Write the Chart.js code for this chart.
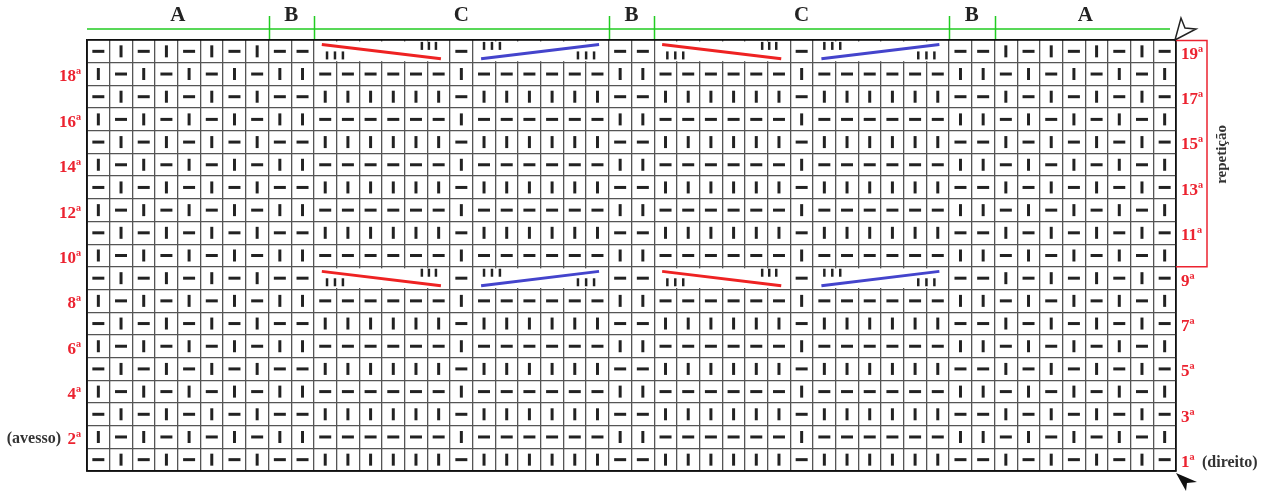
<!DOCTYPE html>
<html>
<head>
<meta charset="utf-8">
<script src="https://cdn.jsdelivr.net/npm/chart.js@4.4.1/dist/chart.umd.min.js"></script>
<style>
  html, body { margin: 0; padding: 0; background: #fff; }
  #wrap { width: 1261px; height: 492px; position: relative; }
</style>
</head>
<body>
<div id="wrap"><canvas id="chart"></canvas></div>
<script>
// ---- chart data ----------------------------------------------------------
const sectionLabels = ['A', 'B', 'C', 'B', 'C', 'B', 'A'];
const sectionWidths = [8, 2, 13, 2, 13, 2, 8];

// rows from 1ª (bottom) to 19ª (top). '-' purl, '|' knit,
// 'R' = cable crossing to the right (red), 'L' = cable crossing to the left (blue)
const stitchRows = [
    '-|-|-|-|--||||||-||||||--||||||-||||||--|-|-|-|-', // 1
    '|-|-|-|-||------|------||------|------||-|-|-|-|', // 2
    '-|-|-|-|--||||||-||||||--||||||-||||||--|-|-|-|-', // 3
    '|-|-|-|-||------|------||------|------||-|-|-|-|', // 4
    '-|-|-|-|--||||||-||||||--||||||-||||||--|-|-|-|-', // 5
    '|-|-|-|-||------|------||------|------||-|-|-|-|', // 6
    '-|-|-|-|--||||||-||||||--||||||-||||||--|-|-|-|-', // 7
    '|-|-|-|-||------|------||------|------||-|-|-|-|', // 8
    '-|-|-|-|--RRRRRR-LLLLLL--RRRRRR-LLLLLL--|-|-|-|-', // 9
    '|-|-|-|-||------|------||------|------||-|-|-|-|', // 10
    '-|-|-|-|--||||||-||||||--||||||-||||||--|-|-|-|-', // 11
    '|-|-|-|-||------|------||------|------||-|-|-|-|', // 12
    '-|-|-|-|--||||||-||||||--||||||-||||||--|-|-|-|-', // 13
    '|-|-|-|-||------|------||------|------||-|-|-|-|', // 14
    '-|-|-|-|--||||||-||||||--||||||-||||||--|-|-|-|-', // 15
    '|-|-|-|-||------|------||------|------||-|-|-|-|', // 16
    '-|-|-|-|--||||||-||||||--||||||-||||||--|-|-|-|-', // 17
    '|-|-|-|-||------|------||------|------||-|-|-|-|', // 18
    '-|-|-|-|--RRRRRR-LLLLLL--RRRRRR-LLLLLL--|-|-|-|-'  // 19
];

const rowLabels = ['1ª', '2ª', '3ª', '4ª', '5ª', '6ª', '7ª', '8ª', '9ª', '10ª',
                   '11ª', '12ª', '13ª', '14ª', '15ª', '16ª', '17ª', '18ª', '19ª'];

const repeatRows = [10, 19]; // bracket "repetição"

// cable symbol: diagonal line + two groups of three small knit marks
// (offsets in cells, from the left edge / bottom of the cable span)
const cableRightLine = [[0.35, 0.80], [5.60, 0.17]];
const cableRightTicks = [[0.58, 0.32], [0.93, 0.32], [1.28, 0.32], [4.76, 0.74], [5.07, 0.74], [5.38, 0.74]];
const cableLeftLine = [[0.37, 0.17], [5.57, 0.80]];
const cableLeftTicks = [[0.50, 0.74], [0.85, 0.74], [1.20, 0.74], [4.64, 0.32], [5.00, 0.32], [5.35, 0.32]];

// ---- helpers -------------------------------------------------------------
const COLS = stitchRows[0].length;
const ROWS = stitchRows.length;
const SERIF = '"Liberation Serif", "DejaVu Serif", serif';
const RED = '#ec2330';

function cableSpans(row) {
    const spans = [];
    let i = 0;
    while (i < row.length) {
        const ch = row[i];
        if (ch === 'R' || ch === 'L') {
            let j = i;
            while (j < row.length && row[j] === ch) j++;
            spans.push({ kind: ch, start: i, end: j });
            i = j;
        } else {
            i++;
        }
    }
    return spans;
}

const purlPts = [];
const knitPts = [];
const tickPts = [];
const cableSets = [];

stitchRows.forEach((row, r) => {
    for (let c = 0; c < row.length; c++) {
        if (row[c] === '-') purlPts.push({ x: c + 0.5, y: r + 0.5 });
        if (row[c] === '|') knitPts.push({ x: c + 0.5, y: r + 0.5 });
    }
    cableSpans(row).forEach(s => {
        const line = s.kind === 'R' ? cableRightLine : cableLeftLine;
        const ticks = s.kind === 'R' ? cableRightTicks : cableLeftTicks;
        cableSets.push({
            type: 'scatter',
            showLine: true,
            data: line.map(p => ({ x: s.start + p[0], y: r + p[1] })),
            borderColor: s.kind === 'R' ? '#ee2222' : '#4444cc',
            borderWidth: 3,
            pointRadius: 0
        });
        ticks.forEach(p => tickPts.push({ x: s.start + p[0], y: r + p[1] }));
    });
});

// ---- decorations (cable cells, labels, section ruler, arrows) -------------
const chartDecor = {
    id: 'chartDecor',
    beforeDatasetsDraw(chart) {
        // a cable occupies several cells: hide the inner cell borders
        const { ctx, scales: { x, y } } = chart;
        ctx.save();
        ctx.fillStyle = '#fff';
        stitchRows.forEach((row, r) => {
            cableSpans(row).forEach(s => {
                const x0 = x.getPixelForValue(s.start), x1 = x.getPixelForValue(s.end);
                const y0 = y.getPixelForValue(r + 1), y1 = y.getPixelForValue(r);
                ctx.fillRect(x0 + 1.5, y0 + 1.5, x1 - x0 - 3, y1 - y0 - 3);
            });
        });
        // outer frame
        const l = x.getPixelForValue(0), rt = x.getPixelForValue(COLS);
        const t = y.getPixelForValue(ROWS), b = y.getPixelForValue(0);
        ctx.strokeStyle = '#111';
        ctx.lineWidth = 1.5;
        ctx.strokeRect(l, t, rt - l, b - t);
        ctx.restore();
    },
    afterDraw(chart) {
        const { ctx, scales: { x, y } } = chart;
        const left = x.getPixelForValue(0), right = x.getPixelForValue(COLS);
        const top = y.getPixelForValue(ROWS), bottom = y.getPixelForValue(0);
        ctx.save();

        // row numbers: odd on the right, even on the left
        ctx.font = 'bold 17px ' + SERIF;
        ctx.fillStyle = RED;
        ctx.textBaseline = 'middle';
        rowLabels.forEach((lab, r) => {
            const py = y.getPixelForValue(r + 0.5) + 3;
            if ((r + 1) % 2 === 1) {
                ctx.textAlign = 'left';
                ctx.fillText(lab, right + 5, py);
            } else {
                ctx.textAlign = 'right';
                ctx.fillText(lab, left - 6, py);
            }
        });

        // side notes
        ctx.fillStyle = '#333';
        ctx.font = 'bold 16px ' + SERIF;
        ctx.textAlign = 'right';
        ctx.fillText('(avesso)', left - 26, y.getPixelForValue(1.5) + 2);
        ctx.textAlign = 'left';
        ctx.fillText('(direito)', right + 26, y.getPixelForValue(0.5) + 3);

        // repeat bracket
        const by0 = y.getPixelForValue(repeatRows[1]);
        const by1 = y.getPixelForValue(repeatRows[0] - 1);
        const bx = right + 31;
        ctx.strokeStyle = RED;
        ctx.lineWidth = 1.5;
        ctx.beginPath();
        ctx.moveTo(right, by0 + 0.5);
        ctx.lineTo(bx, by0 + 0.5);
        ctx.lineTo(bx, by1);
        ctx.lineTo(right, by1);
        ctx.stroke();
        ctx.save();
        ctx.translate(bx + 15, (by0 + by1) / 2 + 1);
        ctx.rotate(-Math.PI / 2);
        ctx.fillStyle = '#333';
        ctx.font = 'bold 15px ' + SERIF;
        ctx.textAlign = 'center';
        ctx.fillText('repetição', 0, 0);
        ctx.restore();

        // section ruler
        const gy = top - 11;
        ctx.strokeStyle = '#22cc22';
        ctx.lineWidth = 1.5;
        ctx.beginPath();
        ctx.moveTo(left, gy);
        ctx.lineTo(right - 6, gy);
        let acc = 0;
        sectionWidths.forEach((w, i) => {
            if (i > 0) {
                const px = Math.round(x.getPixelForValue(acc)) + 0.5;
                ctx.moveTo(px, gy - 13);
                ctx.lineTo(px, gy + 10);
            }
            acc += w;
        });
        ctx.stroke();
        ctx.fillStyle = '#222';
        ctx.font = 'bold 21px ' + SERIF;
        ctx.textAlign = 'center';
        acc = 0;
        sectionLabels.forEach((lab, i) => {
            const cx = x.getPixelForValue(acc + sectionWidths[i] / 2);
            ctx.fillText(lab, cx, top - 24);
            acc += sectionWidths[i];
        });

        // start arrows
        ctx.lineWidth = 1.5;
        ctx.strokeStyle = '#222';
        ctx.fillStyle = '#fff';
        ctx.beginPath();
        ctx.moveTo(right - 1, top);
        ctx.lineTo(right + 5, top - 22);
        ctx.lineTo(right + 9, top - 12);
        ctx.lineTo(right + 20, top - 11);
        ctx.closePath();
        ctx.fill();
        ctx.stroke();
        ctx.fillStyle = '#111';
        ctx.beginPath();
        ctx.moveTo(right, bottom + 2);
        ctx.lineTo(right + 21, bottom + 11);
        ctx.lineTo(right + 11, bottom + 12);
        ctx.lineTo(right + 10, bottom + 20);
        ctx.closePath();
        ctx.fill();

        ctx.restore();
    }
};

const gridColor = (max) => (c) => (c.tick.value === 0 || c.tick.value === max) ? '#111' : '#555';

new Chart(document.getElementById('chart'), {
    type: 'scatter',
    data: {
        datasets: [
            {
                label: 'purl',
                data: purlPts,
                pointStyle: 'line',
                pointRadius: 6,
                pointBorderWidth: 3,
                pointBorderColor: '#222',
                pointRotation: 0
            },
            {
                label: 'knit',
                data: knitPts,
                pointStyle: 'line',
                pointRadius: 6,
                pointBorderWidth: 3,
                pointBorderColor: '#222',
                pointRotation: 90
            },
            {
                label: 'cable knit',
                data: tickPts,
                pointStyle: 'line',
                pointRadius: 4,
                pointBorderWidth: 2.5,
                pointBorderColor: '#222',
                pointRotation: 90
            },
            ...cableSets
        ]
    },
    options: {
        responsive: true,
        maintainAspectRatio: false,
        animation: false,
        events: [],
        layout: { padding: { left: 87, right: 85, top: 40, bottom: 21 } },
        plugins: {
            legend: { display: false },
            tooltip: { enabled: false }
        },
        scales: {
            x: {
                type: 'linear',
                min: 0,
                max: COLS,
                ticks: { display: false, stepSize: 1, maxTicksLimit: 200 },
                grid: { color: gridColor(COLS), lineWidth: 1.3, drawTicks: false },
                border: { display: true, color: '#111', width: 1.5 }
            },
            y: {
                type: 'linear',
                min: 0,
                max: ROWS,
                ticks: { display: false, stepSize: 1, maxTicksLimit: 200 },
                grid: { color: gridColor(ROWS), lineWidth: 1.3, drawTicks: false },
                border: { display: true, color: '#111', width: 1.5 }
            }
        }
    },
    plugins: [chartDecor]
});
</script>
</body>
</html>
